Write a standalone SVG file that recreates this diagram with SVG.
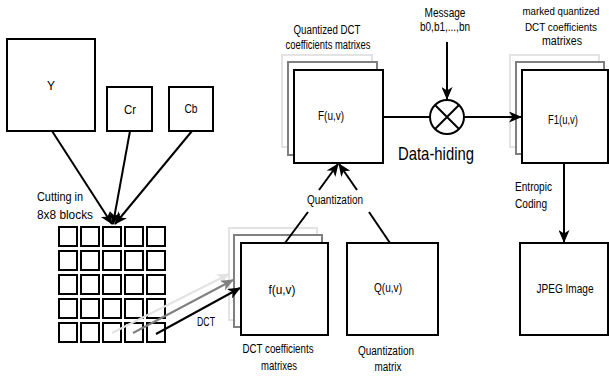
<svg xmlns="http://www.w3.org/2000/svg" width="609" height="379" viewBox="0 0 609 379">
<defs>
<style>
.box{fill:#fff;stroke:#000;stroke-width:2}
.b2{fill:#fff;stroke:#808080;stroke-width:2}
.b3{fill:#fff;stroke:#e3e3e3;stroke-width:2}
text{font-family:"Liberation Sans",Arial,sans-serif;font-size:12px;fill:#000}
.c{text-anchor:middle}
.s{font-size:11px}
.e{fill:none;stroke:#000;stroke-width:2}
.eg{fill:none;stroke:#808080;stroke-width:2}
.el{fill:none;stroke:#e3e3e3;stroke-width:2}
</style>
<marker id="ab" markerUnits="userSpaceOnUse" markerWidth="13" markerHeight="11" refX="12" refY="5.5" orient="auto" viewBox="0 0 13 11"><path d="M0,0 L13,5.5 L0,11 L3.5,5.5 Z" fill="#000"/></marker>
<marker id="ag" markerUnits="userSpaceOnUse" markerWidth="13" markerHeight="11" refX="12" refY="5.5" orient="auto" viewBox="0 0 13 11"><path d="M0,0 L13,5.5 L0,11 L3.5,5.5 Z" fill="#808080"/></marker>
<marker id="al" markerUnits="userSpaceOnUse" markerWidth="13" markerHeight="11" refX="12" refY="5.5" orient="auto" viewBox="0 0 13 11"><path d="M0,0 L13,5.5 L0,11 L3.5,5.5 Z" fill="#e3e3e3"/></marker>
</defs>
<rect width="609" height="379" fill="#fff"/>

<g id="Y"><rect class="box" x="7" y="39" width="88" height="92"/><text class="c" x="51" y="90" textLength="8" lengthAdjust="spacingAndGlyphs">Y</text></g>
<g id="Cr"><rect class="box" x="107" y="87" width="45" height="44"/><text class="c" x="130" y="114" textLength="12" lengthAdjust="spacingAndGlyphs">Cr</text></g>
<g id="Cb"><rect class="box" x="169" y="87" width="44" height="44"/><text class="c" x="191" y="113" textLength="13" lengthAdjust="spacingAndGlyphs">Cb</text></g>

<g id="grid">
<text x="37" y="201" textLength="46" lengthAdjust="spacingAndGlyphs">Cutting in</text><text x="37" y="219" textLength="56" lengthAdjust="spacingAndGlyphs">8x8 blocks</text>
<rect class="box" x="59" y="227" width="18" height="19"/><rect class="box" x="81" y="227" width="18" height="19"/><rect class="box" x="103" y="227" width="18" height="19"/><rect class="box" x="125" y="227" width="18" height="19"/><rect class="box" x="147" y="227" width="18" height="19"/>
<rect class="box" x="59" y="251" width="18" height="19"/><rect class="box" x="81" y="251" width="18" height="19"/><rect class="box" x="103" y="251" width="18" height="19"/><rect class="box" x="125" y="251" width="18" height="19"/><rect class="box" x="147" y="251" width="18" height="19"/>
<rect class="box" x="59" y="275" width="18" height="19"/><rect class="box" x="81" y="275" width="18" height="19"/><rect class="box" x="103" y="275" width="18" height="19"/><rect class="box" x="125" y="275" width="18" height="19"/><rect class="box" x="147" y="275" width="18" height="19"/>
<rect class="box" x="59" y="299" width="18" height="19"/><rect class="box" x="81" y="299" width="18" height="19"/><rect class="box" x="103" y="299" width="18" height="19"/><rect class="box" x="125" y="299" width="18" height="19"/><rect class="box" x="147" y="299" width="18" height="19"/>
<rect class="box" x="59" y="323" width="18" height="19"/><rect class="box" x="81" y="323" width="18" height="19"/><rect class="box" x="103" y="323" width="18" height="19"/><rect class="box" x="125" y="323" width="18" height="19"/><rect class="box" x="147" y="323" width="18" height="19"/>
</g>

<g id="f">
<rect class="b3" x="229" y="228" width="88" height="92"/>
<rect class="b2" x="234" y="235" width="88" height="92"/>
<rect class="box" x="241" y="243" width="87" height="92"/>
<text class="c" x="282" y="294" textLength="27" lengthAdjust="spacingAndGlyphs">f(u,v)</text>
<text class="c" x="278" y="353" textLength="71" lengthAdjust="spacingAndGlyphs">DCT coefficients</text>
<text class="c" x="279" y="370" textLength="36" lengthAdjust="spacingAndGlyphs">matrixes</text>
</g>

<g id="Q">
<rect class="box" x="347" y="243" width="91" height="92"/>
<text class="c" x="388" y="292" textLength="28" lengthAdjust="spacingAndGlyphs">Q(u,v)</text>
<text class="c" x="386" y="355" textLength="56" lengthAdjust="spacingAndGlyphs">Quantization</text>
<text class="c" x="388" y="371" textLength="27" lengthAdjust="spacingAndGlyphs">matrix</text>
</g>

<g id="F">
<text class="c" x="327" y="34" textLength="67" lengthAdjust="spacingAndGlyphs">Quantized DCT</text>
<text class="c" x="328" y="49" textLength="85" lengthAdjust="spacingAndGlyphs">coefficients matrixes</text>
<rect class="b3" x="282" y="55" width="90" height="92"/>
<rect class="b2" x="288" y="62" width="89" height="93"/>
<rect class="box" x="294" y="70" width="89" height="93"/>
<text class="c" x="331" y="120" textLength="26" lengthAdjust="spacingAndGlyphs">F(u,v)</text>
</g>

<g id="hide">
<text class="c" x="445" y="17" textLength="41" lengthAdjust="spacingAndGlyphs">Message</text>
<text class="c" x="445" y="31" textLength="50" lengthAdjust="spacingAndGlyphs">b0,b1,...,bn</text>
<circle cx="447" cy="117" r="17" fill="#fff" stroke="#000" stroke-width="2"/>
<path class="e" d="M435,105 L459,129 M459,105 L435,129"/>
<text class="c" x="436" y="160" style="font-size:19px" textLength="76" lengthAdjust="spacingAndGlyphs">Data-hiding</text>
</g>

<g id="F1">
<text class="c" x="561" y="15" style="font-size:10.5px" textLength="77" lengthAdjust="spacingAndGlyphs">marked quantized</text>
<text class="c s" x="561" y="31" textLength="72" lengthAdjust="spacingAndGlyphs">DCT coefficients</text>
<text class="c" x="562" y="45" textLength="40" lengthAdjust="spacingAndGlyphs">matrixes</text>
<rect class="b3" x="510" y="55" width="89" height="92"/>
<rect class="b2" x="516" y="62" width="88" height="92"/>
<rect class="box" x="522" y="70" width="86" height="93"/>
<text class="c" x="563" y="124" textLength="30" lengthAdjust="spacingAndGlyphs">F1(u,v)</text>
</g>

<g id="JPEG">
<rect class="box" x="520" y="243" width="88" height="92"/>
<text class="c" x="565" y="293" textLength="57" lengthAdjust="spacingAndGlyphs">JPEG Image</text>
</g>

<g id="connectors">
<path class="e" d="M52,131 L112,224" marker-end="url(#ab)"/>
<path class="e" d="M130,131 L113,224" marker-end="url(#ab)"/>
<path class="e" d="M192,131 L115,224" marker-end="url(#ab)"/>
<path class="el" d="M112,333 L229,274" marker-end="url(#al)"/>
<path class="eg" d="M133,333 L233,280" marker-end="url(#ag)"/>
<path class="e" d="M156,334 L240,288" marker-end="url(#ab)"/>
<text class="c" x="206" y="326" textLength="18" lengthAdjust="spacingAndGlyphs">DCT</text>
<path class="e" d="M285,243 L308,212"/>
<path class="e" d="M319,190 L338,164" marker-end="url(#ab)"/>
<path class="e" d="M390,243 L369,212"/>
<path class="e" d="M357,190 L339,164" marker-end="url(#ab)"/>
<text class="c" x="335" y="204" textLength="56" lengthAdjust="spacingAndGlyphs">Quantization</text>
<path class="e" d="M383,117 L430,117"/>
<path class="e" d="M464,117 L521,117" marker-end="url(#ab)"/>
<path class="e" d="M447,42 L447,99" marker-end="url(#ab)"/>
<path class="e" d="M564,163 L564,242" marker-end="url(#ab)"/>
<text x="515" y="191" textLength="37" lengthAdjust="spacingAndGlyphs">Entropic</text>
<text x="515" y="208" textLength="32" lengthAdjust="spacingAndGlyphs">Coding</text>
</g>
</svg>
